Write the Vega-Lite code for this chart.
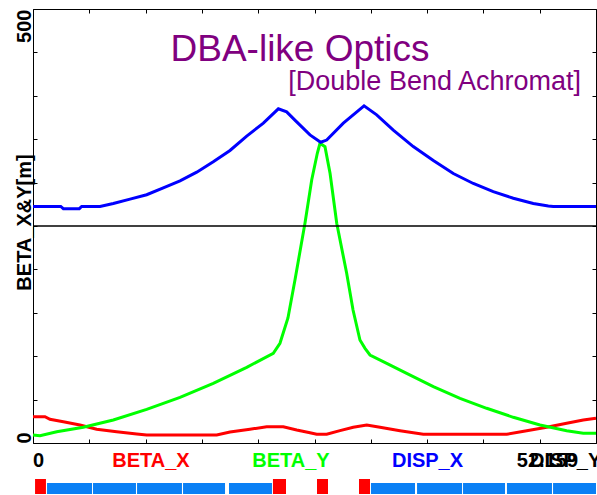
{
  "$schema": "https://vega.github.io/schema/vega-lite/v6.json",
  "autosize": "none",
  "padding": {"left": 33, "top": 9, "right": 564, "bottom": 486},
  "bounds": "flush",
  "spacing": 4,
  "config": {
    "view": {"stroke": null},
    "font": "Liberation Sans",
    "axis": {
      "grid": false,
      "domainColor": "black",
      "domainWidth": 1,
      "tickColor": "black",
      "tickWidth": 1,
      "tickSize": -4,
      "labelFont": "Liberation Sans",
      "titleFont": "Liberation Sans"
    }
  },
  "datasets": {
    "beta": [
      {"s": 0, "beta": 30.3, "series": "BETA_X"},
      {"s": 1.11, "beta": 30.3, "series": "BETA_X"},
      {"s": 1.57, "beta": 27.3, "series": "BETA_X"},
      {"s": 2.81, "beta": 24.5, "series": "BETA_X"},
      {"s": 4.35, "beta": 20.7, "series": "BETA_X"},
      {"s": 5.9, "beta": 15.8, "series": "BETA_X"},
      {"s": 7.75, "beta": 13.0, "series": "BETA_X"},
      {"s": 9.61, "beta": 10.4, "series": "BETA_X"},
      {"s": 10.53, "beta": 9.2, "series": "BETA_X"},
      {"s": 17.02, "beta": 9.2, "series": "BETA_X"},
      {"s": 18.25, "beta": 12.7, "series": "BETA_X"},
      {"s": 20.1, "beta": 15.8, "series": "BETA_X"},
      {"s": 21.65, "beta": 18.8, "series": "BETA_X"},
      {"s": 23.19, "beta": 18.8, "series": "BETA_X"},
      {"s": 24.43, "beta": 15.0, "series": "BETA_X"},
      {"s": 25.66, "beta": 11.9, "series": "BETA_X"},
      {"s": 26.28, "beta": 10.0, "series": "BETA_X"},
      {"s": 27.21, "beta": 10.0, "series": "BETA_X"},
      {"s": 28.44, "beta": 14.2, "series": "BETA_X"},
      {"s": 29.67, "beta": 18.1, "series": "BETA_X"},
      {"s": 30.92, "beta": 20.7, "series": "BETA_X"},
      {"s": 32.15, "beta": 18.1, "series": "BETA_X"},
      {"s": 34.0, "beta": 14.2, "series": "BETA_X"},
      {"s": 36.16, "beta": 10.0, "series": "BETA_X"},
      {"s": 43.89, "beta": 10.0, "series": "BETA_X"},
      {"s": 45.74, "beta": 14.2, "series": "BETA_X"},
      {"s": 47.59, "beta": 18.1, "series": "BETA_X"},
      {"s": 49.44, "beta": 22.7, "series": "BETA_X"},
      {"s": 50.98, "beta": 26.5, "series": "BETA_X"},
      {"s": 52.159, "beta": 28.5, "series": "BETA_X"},
      {"s": 0, "beta": 9.2, "series": "BETA_Y"},
      {"s": 0.65, "beta": 8.4, "series": "BETA_Y"},
      {"s": 2.2, "beta": 13.0, "series": "BETA_Y"},
      {"s": 4.66, "beta": 18.1, "series": "BETA_Y"},
      {"s": 7.44, "beta": 26.5, "series": "BETA_Y"},
      {"s": 10.53, "beta": 38.8, "series": "BETA_Y"},
      {"s": 13.62, "beta": 52.6, "series": "BETA_Y"},
      {"s": 16.7, "beta": 68.8, "series": "BETA_Y"},
      {"s": 19.8, "beta": 87.2, "series": "BETA_Y"},
      {"s": 22.26, "beta": 103.3, "series": "BETA_Y"},
      {"s": 22.88, "beta": 114.9, "series": "BETA_Y"},
      {"s": 23.62, "beta": 144.0, "series": "BETA_Y"},
      {"s": 24.27, "beta": 187.8, "series": "BETA_Y"},
      {"s": 25.2, "beta": 253.5, "series": "BETA_Y"},
      {"s": 25.82, "beta": 303.0, "series": "BETA_Y"},
      {"s": 26.34, "beta": 333.8, "series": "BETA_Y"},
      {"s": 26.59, "beta": 345.3, "series": "BETA_Y"},
      {"s": 27.05, "beta": 341.4, "series": "BETA_Y"},
      {"s": 27.52, "beta": 310.7, "series": "BETA_Y"},
      {"s": 28.14, "beta": 253.1, "series": "BETA_Y"},
      {"s": 29.06, "beta": 195.5, "series": "BETA_Y"},
      {"s": 29.65, "beta": 153.2, "series": "BETA_Y"},
      {"s": 30.29, "beta": 118.7, "series": "BETA_Y"},
      {"s": 30.76, "beta": 109.1, "series": "BETA_Y"},
      {"s": 31.22, "beta": 101.4, "series": "BETA_Y"},
      {"s": 32.77, "beta": 91.8, "series": "BETA_Y"},
      {"s": 34.62, "beta": 80.3, "series": "BETA_Y"},
      {"s": 37.09, "beta": 64.9, "series": "BETA_Y"},
      {"s": 39.56, "beta": 51.5, "series": "BETA_Y"},
      {"s": 42.03, "beta": 40.0, "series": "BETA_Y"},
      {"s": 44.5, "beta": 29.6, "series": "BETA_Y"},
      {"s": 46.97, "beta": 20.7, "series": "BETA_Y"},
      {"s": 49.44, "beta": 14.2, "series": "BETA_Y"},
      {"s": 50.98, "beta": 11.2, "series": "BETA_Y"},
      {"s": 52.159, "beta": 11.2, "series": "BETA_Y"}
    ],
    "disp": [
      {"s": 0, "disp": 0.045, "series": "DISP_X"},
      {"s": 2.57, "disp": 0.045, "series": "DISP_X"},
      {"s": 2.81, "disp": 0.040, "series": "DISP_X"},
      {"s": 4.29, "disp": 0.040, "series": "DISP_X"},
      {"s": 4.51, "disp": 0.045, "series": "DISP_X"},
      {"s": 6.21, "disp": 0.045, "series": "DISP_X"},
      {"s": 7.44, "disp": 0.052, "series": "DISP_X"},
      {"s": 8.99, "disp": 0.062, "series": "DISP_X"},
      {"s": 10.53, "disp": 0.072, "series": "DISP_X"},
      {"s": 12.07, "disp": 0.088, "series": "DISP_X"},
      {"s": 13.62, "disp": 0.104, "series": "DISP_X"},
      {"s": 15.17, "disp": 0.124, "series": "DISP_X"},
      {"s": 16.7, "disp": 0.148, "series": "DISP_X"},
      {"s": 18.25, "disp": 0.174, "series": "DISP_X"},
      {"s": 19.8, "disp": 0.207, "series": "DISP_X"},
      {"s": 21.34, "disp": 0.237, "series": "DISP_X"},
      {"s": 22.73, "disp": 0.270, "series": "DISP_X"},
      {"s": 23.5, "disp": 0.263, "series": "DISP_X"},
      {"s": 24.43, "disp": 0.240, "series": "DISP_X"},
      {"s": 25.66, "disp": 0.210, "series": "DISP_X"},
      {"s": 26.65, "disp": 0.193, "series": "DISP_X"},
      {"s": 27.21, "disp": 0.198, "series": "DISP_X"},
      {"s": 28.75, "disp": 0.237, "series": "DISP_X"},
      {"s": 30.67, "disp": 0.277, "series": "DISP_X"},
      {"s": 31.84, "disp": 0.256, "series": "DISP_X"},
      {"s": 33.38, "disp": 0.221, "series": "DISP_X"},
      {"s": 35.23, "disp": 0.183, "series": "DISP_X"},
      {"s": 37.09, "disp": 0.151, "series": "DISP_X"},
      {"s": 38.94, "disp": 0.121, "series": "DISP_X"},
      {"s": 40.79, "disp": 0.098, "series": "DISP_X"},
      {"s": 42.64, "disp": 0.079, "series": "DISP_X"},
      {"s": 44.5, "disp": 0.064, "series": "DISP_X"},
      {"s": 46.35, "disp": 0.052, "series": "DISP_X"},
      {"s": 47.74, "disp": 0.046, "series": "DISP_X"},
      {"s": 48.2, "disp": 0.045, "series": "DISP_X"},
      {"s": 52.159, "disp": 0.045, "series": "DISP_X"},
      {"s": 0, "disp": 0, "series": "DISP_Y"},
      {"s": 52.159, "disp": 0, "series": "DISP_Y"}
    ],
    "names": [
      {"label": "0", "s": 0, "series": "axis"},
      {"label": "BETA_X", "s": 10.93, "series": "BETA_X"},
      {"label": "BETA_Y", "s": 23.9, "series": "BETA_Y"},
      {"label": "DISP_X", "s": 36.55, "series": "DISP_X"},
      {"label": "52.159", "s": 52.159, "series": "axis"},
      {"label": "DISP_Y", "s": 49.35, "series": "DISP_Y"}
    ],
    "headings": [
      {"heading": "DBA-like Optics"},
      {"heading": "[Double Bend Achromat]"}
    ],
    "lattice": [
      {"kind": "QUAD", "s0": 0.19, "s1": 1.2},
      {"kind": "BEND", "s0": 1.3, "s1": 5.47},
      {"kind": "BEND", "s0": 5.56, "s1": 9.54},
      {"kind": "BEND", "s0": 9.64, "s1": 13.8},
      {"kind": "BEND", "s0": 13.9, "s1": 17.79},
      {"kind": "BEND", "s0": 18.16, "s1": 22.14},
      {"kind": "QUAD", "s0": 22.23, "s1": 23.44},
      {"kind": "QUAD", "s0": 26.31, "s1": 27.33},
      {"kind": "QUAD", "s0": 30.2, "s1": 31.22},
      {"kind": "BEND", "s0": 31.31, "s1": 35.39},
      {"kind": "BEND", "s0": 35.58, "s1": 39.75},
      {"kind": "BEND", "s0": 39.84, "s1": 43.73},
      {"kind": "BEND", "s0": 43.91, "s1": 48.08},
      {"kind": "BEND", "s0": 48.18, "s1": 52.159}
    ]
  },
  "vconcat": [
    {
      "width": 563,
      "height": 434,
      "resolve": {"scale": {"y": "independent"}, "axis": {"x": "independent"}},
      "layer": [
        {
          "layer": [
            {
              "data": {"name": "beta"},
              "mark": {"type": "line", "strokeWidth": 3},
              "encoding": {
                "x": {
                  "field": "s", "type": "quantitative",
                  "scale": {"domain": [0, 52.159], "nice": false, "zero": false},
                  "axis": {
                    "orient": "bottom",
                    "values": [0, 5.2159, 10.4318, 15.6477, 20.8636, 26.0795, 31.2954, 36.5113, 41.7272, 46.9431, 52.159],
                    "labels": false,
                    "title": null
                  }
                },
                "y": {
                  "field": "beta", "type": "quantitative",
                  "scale": {"domain": [0, 500], "nice": false, "zero": true},
                  "axis": {
                    "orient": "left",
                    "values": [0, 50, 100, 150, 200, 250, 300, 350, 400, 450, 500],
                    "labelExpr": "datum.value == 0 || datum.value == 500 ? datum.label : ''",
                    "labelAngle": -90,
                    "labelAlign": {"condition": {"test": "datum.value == 0", "value": "left"}, "value": "right"},
                    "labelBaseline": "alphabetic",
                    "labelFontSize": 20,
                    "labelFontWeight": "bold",
                    "labelColor": "black",
                    "labelPadding": 7,
                    "labelFlush": false,
                    "labelOverlap": false,
                    "title": "BETA_X&Y[m]",
                    "titleFontSize": 20,
                    "titleFontWeight": "bold",
                    "titleColor": "black",
                    "titleAngle": -90,
                    "titleBaseline": "alphabetic",
                    "titleX": -3,
                    "titleY": 213
                  }
                },
                "color": {
                  "field": "series", "type": "nominal",
                  "scale": {"domain": ["BETA_X", "BETA_Y", "DISP_X", "DISP_Y", "axis"], "range": ["#ff0000", "#00ff00", "#0000ff", "#000000", "#000000"]},
                  "legend": null
                }
              }
            },
            {
              "data": {"name": "headings"},
              "transform": [{"filter": "datum.heading == 'DBA-like Optics'"}],
              "mark": {"type": "text", "font": "Liberation Sans", "fontSize": 37, "color": "#800080", "align": "center", "baseline": "alphabetic"},
              "encoding": {
                "x": {"datum": 24.74, "type": "quantitative"},
                "y": {"datum": 440, "type": "quantitative"},
                "text": {"field": "heading"}
              }
            },
            {
              "data": {"name": "headings"},
              "transform": [{"filter": "datum.heading == '[Double Bend Achromat]'"}],
              "mark": {"type": "text", "font": "Liberation Sans", "fontSize": 27, "color": "#800080", "align": "right", "baseline": "alphabetic"},
              "encoding": {
                "x": {"datum": 50.77, "type": "quantitative"},
                "y": {"datum": 406.7, "type": "quantitative"},
                "text": {"field": "heading"}
              }
            }
          ]
        },
        {
          "data": {"name": "disp"},
          "mark": {"type": "line"},
          "encoding": {
            "x": {
              "field": "s", "type": "quantitative",
              "scale": {"domain": [0, 52.159], "nice": false, "zero": false},
              "axis": {
                "orient": "top",
                "values": [0, 5.2159, 10.4318, 15.6477, 20.8636, 26.0795, 31.2954, 36.5113, 41.7272, 46.9431, 52.159],
                "labels": false,
                "title": null
              }
            },
            "y": {
              "field": "disp", "type": "quantitative",
              "scale": {"domain": [-0.5, 0.5], "nice": false, "zero": false},
              "axis": {
                "orient": "right",
                "values": [-0.5, -0.4, -0.3, -0.2, -0.1, 0, 0.1, 0.2, 0.3, 0.4, 0.5],
                "labels": false,
                "title": null
              }
            },
            "color": {
              "field": "series", "type": "nominal",
              "scale": {"domain": ["BETA_X", "BETA_Y", "DISP_X", "DISP_Y", "axis"], "range": ["#ff0000", "#00ff00", "#0000ff", "#000000", "#000000"]},
              "legend": null
            },
            "strokeWidth": {"condition": {"test": "datum.series == 'DISP_Y'", "value": 1.5}, "value": 3}
          }
        }
      ]
    },
    {
      "width": 563,
      "height": 28,
      "data": {"name": "names"},
      "mark": {
        "type": "text",
        "font": "Liberation Sans",
        "fontSize": 20,
        "fontWeight": "bold",
        "baseline": "middle",
        "align": {"expr": "datum.label == '0' ? 'left' : datum.label == '52.159' ? 'right' : 'center'"},
        "dx": {"expr": "datum.label == '52.159' ? -18 : 0"}
      },
      "encoding": {
        "x": {"field": "s", "type": "quantitative", "scale": {"domain": [0, 52.159], "nice": false, "zero": false}, "axis": null},
        "text": {"field": "label"},
        "color": {
          "field": "series", "type": "nominal",
          "scale": {"domain": ["BETA_X", "BETA_Y", "DISP_X", "DISP_Y", "axis"], "range": ["#ff0000", "#00ff00", "#0000ff", "#000000", "#000000"]},
          "legend": null
        }
      }
    },
    {
      "width": 563,
      "height": 15,
      "data": {"name": "lattice"},
      "layer": [
        {
          "transform": [{"filter": "datum.kind == 'BEND'"}],
          "mark": {"type": "rect", "color": "#0a80f5"},
          "encoding": {
            "x": {"field": "s0", "type": "quantitative", "scale": {"domain": [0, 52.159], "nice": false, "zero": false}, "axis": null},
            "x2": {"field": "s1"},
            "y": {"datum": 0, "type": "quantitative", "scale": {"domain": [0, 1], "nice": false}, "axis": null},
            "y2": {"datum": 0.73}
          }
        },
        {
          "transform": [{"filter": "datum.kind == 'QUAD'"}],
          "mark": {"type": "rect", "color": "#ff0000"},
          "encoding": {
            "x": {"field": "s0", "type": "quantitative", "scale": {"domain": [0, 52.159], "nice": false, "zero": false}, "axis": null},
            "x2": {"field": "s1"},
            "y": {"datum": 0, "type": "quantitative", "scale": {"domain": [0, 1], "nice": false}, "axis": null},
            "y2": {"datum": 1}
          }
        }
      ]
    }
  ]
}
